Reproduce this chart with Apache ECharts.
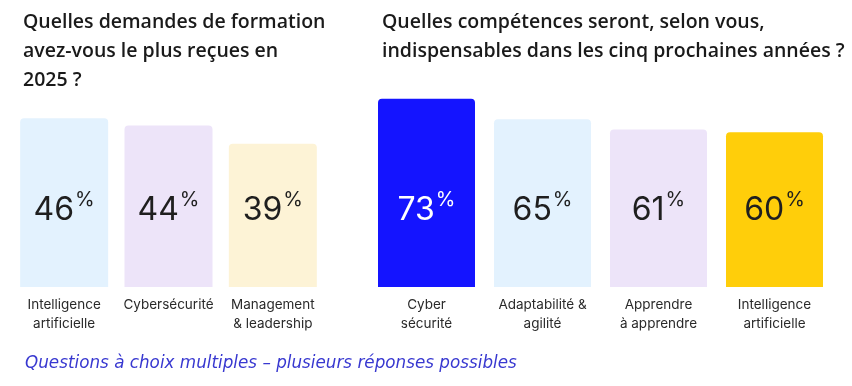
<!DOCTYPE html>
<html>
<head>
<meta charset="utf-8">
<script src="https://cdn.jsdelivr.net/npm/echarts@6/dist/echarts.min.js"></script>
<style>
html,body{margin:0;padding:0;background:#fff;}
#chart{width:852px;height:386px;}
</style>
</head>
<body>
<div id="chart"></div>
<script>
// Data
const leftTitle = "Quelles demandes de formation\navez-vous le plus reçues en\n2025 ?";
const rightTitle = "Quelles compétences seront, selon vous,\nindispensables dans les cinq prochaines années ?";
const footnote = "Questions à choix multiples – plusieurs réponses possibles";

const leftCategories = ["Intelligence\nartificielle", "Cybersécurité", "Management\n& leadership"];
const leftValues = [46, 44, 39];
const leftColors = ["#E3F2FE", "#EDE4F9", "#FDF3D6"];

const rightCategories = ["Cyber\nsécurité", "Adaptabilité &\nagilité", "Apprendre\nà apprendre", "Intelligence\nartificielle"];
const rightValues = [73, 65, 61, 60];
const rightColors = ["#1414FF", "#E3F2FE", "#EDE4F9", "#FFCE0A"];
const rightLabelColors = ["#ffffff", "#1f1f1f", "#1f1f1f", "#1f1f1f"];

const chart = echarts.init(document.getElementById('chart'));

const titleFont = "'Open Sans', 'Noto Sans', sans-serif";
const footFont = "'DejaVu Sans', sans-serif";
const bodyFont = "Inter, 'Noto Sans', sans-serif";

function labelRich(color) {
  return {
    n: { fontSize: 32, fontFamily: bodyFont, color: color, lineHeight: 36, verticalAlign: 'bottom' },
    p: { fontSize: 20, fontFamily: bodyFont, color: color, lineHeight: 36, verticalAlign: 'top', padding: [0, 0, 14, 1] }
  };
}

function makeData(values, colors, labelColors) {
  return values.map((v, i) => ({
    value: v,
    itemStyle: { color: colors[i], borderRadius: [4, 4, 0, 0] },
    label: { rich: labelRich(labelColors ? labelColors[i] : '#1f1f1f') }
  }));
}

const axisLabelStyle = {
  fontFamily: bodyFont,
  fontSize: 13.5,
  lineHeight: 19,
  color: '#2a2a2a',
  margin: 8,
  interval: 0
};

chart.setOption({
  animation: false,
  backgroundColor: '#ffffff',
  title: [
    { text: leftTitle, left: 18, top: 3,
      textStyle: { fontFamily: titleFont, fontWeight: 600, fontSize: 19.5, lineHeight: 29, color: '#1a1a1a' } },
    { text: rightTitle, left: 377, top: 3,
      textStyle: { fontFamily: titleFont, fontWeight: 600, fontSize: 19.5, lineHeight: 29, color: '#1a1a1a' } },
    { text: footnote, left: 20, top: 350,
      textStyle: { fontFamily: footFont, fontStyle: 'italic', fontWeight: 'normal', fontSize: 16.8, color: '#3838d0' } }
  ],
  grid: [
    { left: 12, width: 313, top: 103.5, height: 183.5 },
    { left: 368.5, width: 464, top: 80.6, height: 206.4 }
  ],
  xAxis: [
    { type: 'category', gridIndex: 0, data: leftCategories,
      axisLine: { show: false }, axisTick: { show: false }, axisLabel: axisLabelStyle },
    { type: 'category', gridIndex: 1, data: rightCategories,
      axisLine: { show: false }, axisTick: { show: false }, axisLabel: axisLabelStyle }
  ],
  yAxis: [
    { type: 'value', gridIndex: 0, min: 0, max: 50, show: false },
    { type: 'value', gridIndex: 1, min: 0, max: 80, show: false }
  ],
  series: [
    { type: 'bar', xAxisIndex: 0, yAxisIndex: 0, barWidth: 88,
      data: makeData(leftValues, leftColors),
      label: { show: true, position: 'insideBottom', distance: 61,
        formatter: p => '{n|' + p.value + '}{p|%}' } },
    { type: 'bar', xAxisIndex: 1, yAxisIndex: 1, barWidth: 97,
      data: makeData(rightValues, rightColors, rightLabelColors),
      label: { show: true, position: 'insideBottom', distance: 61,
        formatter: p => '{n|' + p.value + '}{p|%}' } }
  ]
});
</script>
</body>
</html>
